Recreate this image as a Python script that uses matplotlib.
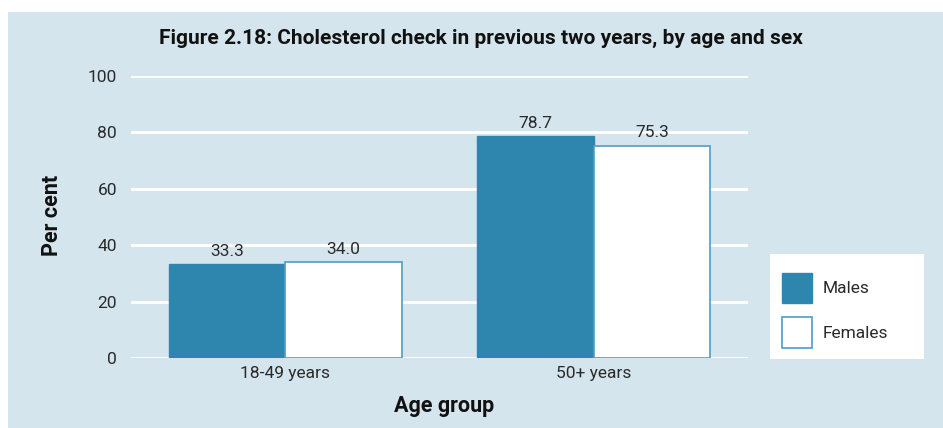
import matplotlib
matplotlib.use("Agg")
import matplotlib.pyplot as plt
import numpy as np
from matplotlib.patches import Rectangle

categories = ["18-49 years", "50+ years"]
series_names = ["Males", "Females"]
males = [33.3, 78.7]
females = [34.0, 75.3]
yticks = [0, 20, 40, 60, 80, 100]

BG = "#d5e5ee"
TEAL = "#2e86ae"
EDGE = "#4f9dc4"
TXT = "#2a2a2a"

plt.rcParams['font.family'] = ['Roboto', 'DejaVu Sans']

fig = plt.figure(figsize=(9.43, 4.28), dpi=100)
fig.patch.set_facecolor("white")
fig.patches.append(Rectangle((8/943, 0), 1 - 8/943, 1 - 12/428, transform=fig.transFigure,
                             facecolor=BG, edgecolor="none", zorder=-5))
# legend box background
fig.patches.append(Rectangle((770/943, 1 - 359/428), 154/943, 105/428, transform=fig.transFigure,
                             facecolor="white", edgecolor="none", zorder=-4))

ax = fig.add_axes([131/943, (428-358)/428, (748-131)/943, (358-76)/428])
ax.set_facecolor("none")
x = np.arange(len(categories))
w = 0.378
b1 = ax.bar(x - w/2, males, w, color=TEAL, edgecolor=TEAL, linewidth=1, label=series_names[0], zorder=3)
b2 = ax.bar(x + w/2, females, w, color="white", edgecolor=EDGE, linewidth=1.2, label=series_names[1], zorder=3)
for bars, vals in ((b1, males), (b2, females)):
    for r, v in zip(bars, vals):
        ax.annotate(f"{v:.1f}", (r.get_x() + r.get_width()/2, v), xytext=(0, 4),
                    textcoords="offset points", ha="center", va="bottom",
                    fontsize=12.5, color=TXT)

ax.set_xlim(-0.5, 1.5)
ax.set_ylim(0, 100)
ax.set_yticks(yticks)
ax.set_yticklabels([str(t) for t in yticks], fontsize=12.5, color=TXT)
ax.set_xticks(x)
ax.set_xticklabels(categories, fontsize=12.5, color=TXT)
ax.tick_params(length=0, pad=10)
ax.tick_params(axis='x', pad=6)
ax.yaxis.grid(True, color="white", linewidth=2, zorder=1)
ax.set_axisbelow(True)
for s in ax.spines.values():
    s.set_visible(False)

fig.text(481/943, 1 - 38/428, "Figure 2.18: Cholesterol check in previous two years, by age and sex",
         ha="center", va="center", fontsize=15, fontweight="bold", color="#111111")
fig.text(52/943, 1 - 215/428, "Per cent", rotation=90, ha="center", va="center",
         fontsize=15.5, fontweight="bold", color="#111111")
fig.text(444/943, 1 - 406/428, "Age group", ha="center", va="center",
         fontsize=15.5, fontweight="bold", color="#111111")

leg = fig.legend(handles=[b1, b2], labels=series_names, loc="upper left",
                 bbox_to_anchor=(782/943, 1 - 273/428), fontsize=12.5,
                 frameon=False,
                 handlelength=1.75, handleheight=2.3, handletextpad=0.58,
                 labelspacing=0.82, borderpad=0, borderaxespad=0)
for t in leg.get_texts():
    t.set_color(TXT)

fig.savefig("out.png", dpi=100)
